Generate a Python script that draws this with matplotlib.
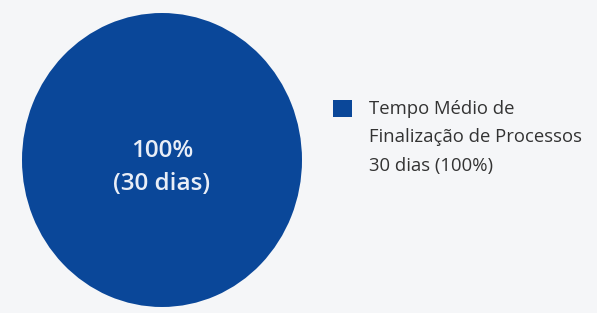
import matplotlib.pyplot as plt

# dados
categorias = ['Tempo Médio de\nFinalização de Processos\n30 dias (100%)']
dias = [30]
cores = ['#0A4799']

fundo = '#F5F6F8'
plt.rcParams['font.family'] = ['Open Sans', 'DejaVu Sans']

fig = plt.figure(figsize=(5.97, 3.13), dpi=100, facecolor=fundo)

# eixo da pizza (a imagem original é levemente esticada na vertical)
W, H = 597, 313
cx, cy, rx, ry = 162, 160, 140, 147
ax = fig.add_axes([(cx - rx) / W, (H - cy - ry) / H, 2 * rx / W, 2 * ry / H])
ax.set_facecolor(fundo)


def rotulo(pct):
    total = sum(dias)
    return f'{pct:.0f}%\n({round(pct * total / 100)} dias)'


wedges, _, autotexts = ax.pie(dias, colors=cores, startangle=90,
                              autopct=rotulo, pctdistance=0,
                              textprops=dict(color='#E9EEF7', fontsize=17.5,
                                             fontweight='semibold',
                                             linespacing=1.5))
for t in autotexts:
    t.set_position((0, -0.05))
ax.set_xlim(-1, 1)
ax.set_ylim(-1, 1)
ax.set_aspect('auto')

leg = fig.legend(wedges, categorias, loc='upper left',
                 bbox_to_anchor=(316 / W, 1 - 83 / H), frameon=False,
                 fontsize=13.3, labelcolor='#333333',
                 handlelength=1.05, handleheight=1.05, handletextpad=0.9)
for t in leg.get_texts():
    t.set_linespacing(1.75)
# quadrado alinhado com a primeira linha
for col in leg._legend_handle_box.get_children():
    for linha in col.get_children():
        linha.align = 'top'

fig.savefig('out.png', dpi=100, facecolor=fundo)
